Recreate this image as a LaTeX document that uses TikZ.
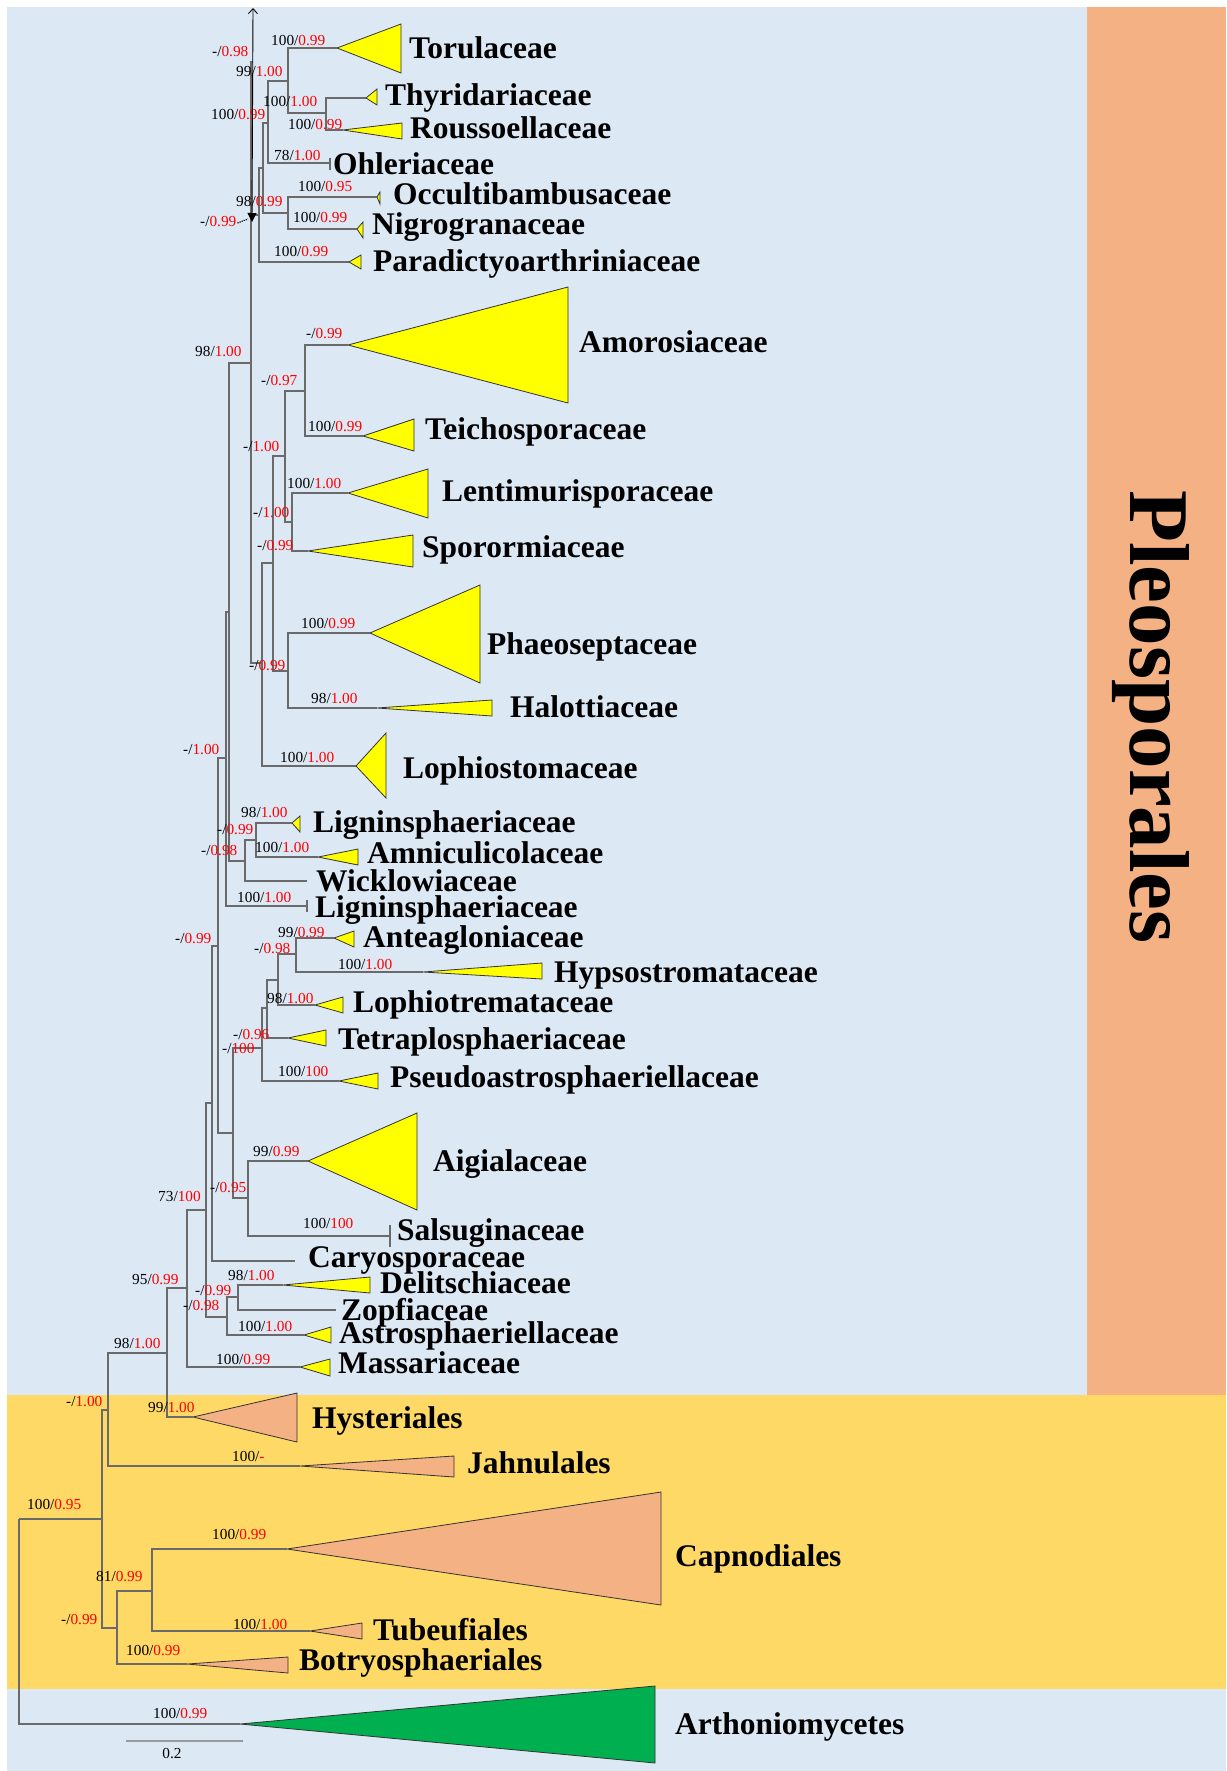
\documentclass[tikz,border=0pt]{standalone}
\usepackage{fontspec}
\setmainfont{Liberation Serif}
\usetikzlibrary{arrows.meta}
\definecolor{bgblue}{HTML}{DDE8F5}
\definecolor{bgorange}{HTML}{F4B183}
\definecolor{bggold}{HTML}{FFD966}
\definecolor{clyellow}{HTML}{FFFF00}
\definecolor{clgreen}{HTML}{00B050}
\definecolor{branch}{HTML}{6A6A6A}
\definecolor{supred}{HTML}{FF0000}

\tikzset{
  br/.style={draw=branch, line width=1.1pt},
  tri/.style={draw=black!80, line width=0.8pt, line join=miter},
  supval/.style={font=\fontsize{15.3}{16}\selectfont, inner sep=0pt, anchor=base west, text=black},
  taxon/.style={font=\fontsize{31.5}{34}\selectfont\bfseries, inner sep=0pt, anchor=base west},
}

% support value: name, position, bootstrap, posterior probability
\newcommand{\bsv}[4]{\node[supval] (#1) at (#2) {#3/\textcolor{supred}{#4}};}
% taxon label: name, position, text
\newcommand{\taxlab}[3]{\node[taxon] (#1) at (#2) {#3};}
% collapsed clade: name, apex, right x, top y, bottom y, fill
\newcommand{\clade}[6]{%
  \coordinate (#1) at (#2);
  \draw[tri, fill=#6] (#1) -- (#3,#4) -- (#3,#5) -- cycle;}

\begin{document}
\begin{tikzpicture}[x=1pt, y=-1pt]
\useasboundingbox (0,0) rectangle (1226,1771);

% coloured bands
\fill[white] (0,0) rectangle (1226,1771);
\fill[bgblue] (7,7) rectangle (1087,1395);
\fill[bgorange] (1087,7) rectangle (1226,1395);
\fill[bggold] (7,1395) rectangle (1226,1689);
\fill[bgblue] (7,1689) rectangle (1226,1771);

\node[font=\fontsize{85}{90}\selectfont\bfseries, rotate=-90, anchor=base, inner sep=0pt] (order) at (1130,717) {Pleosporales};

% collapsed clades
\clade{Toru}{337,48}{401}{24}{73}{clyellow}
\clade{Thyr}{366,98}{377}{89}{105}{clyellow}
\clade{Rous}{343,130}{402}{123}{139}{clyellow}
\clade{Occ}{377,197}{380}{192}{204}{clyellow}
\clade{Nigro}{357,229}{363}{222}{238}{clyellow}
\clade{Paradi}{349,262}{361}{255}{269}{clyellow}
\clade{Amor}{348,345}{568}{287}{403}{clyellow}
\clade{Teich}{363,436}{414}{419}{451}{clyellow}
\clade{Lenti}{348,493}{428}{469}{518}{clyellow}
\clade{Spor}{308,551}{413}{535}{567}{clyellow}
\clade{Phaeo}{370,633}{480}{585}{683}{clyellow}
\clade{Halot}{377,708}{492}{700}{716}{clyellow}
\clade{Lophiost}{356,766}{386}{733}{798}{clyellow}
\clade{LignA}{292,823}{300}{816}{832}{clyellow}
\clade{Amnic}{318,857}{358}{849}{865}{clyellow}
\clade{Antea}{334,938}{354}{931}{947}{clyellow}
\clade{Hypso}{423,972}{542}{963}{979}{clyellow}
\clade{Lophiotr}{315,1005}{343}{997}{1013}{clyellow}
\clade{Tetra}{288,1038}{326}{1030}{1046}{clyellow}
\clade{Pseudo}{339,1081}{378}{1073}{1089}{clyellow}
\clade{Aigi}{308,1161}{417}{1113}{1210}{clyellow}
\clade{Delit}{283,1285}{370}{1277}{1293}{clyellow}
\clade{Astro}{304,1335}{331}{1327}{1343}{clyellow}
\clade{Mass}{300,1367}{330}{1359}{1376}{clyellow}
\clade{Hyst}{193,1417}{297}{1393}{1442}{bgorange}
\clade{Jahn}{300,1466}{454}{1456}{1477}{bgorange}
\clade{Capno}{287,1549}{661}{1492}{1605}{bgorange}
\clade{Tubeu}{310,1631}{362}{1623}{1639}{bgorange}
\clade{Botry}{187,1664}{288}{1657}{1673}{bgorange}
\clade{Arth}{240,1724}{655}{1686}{1763}{clgreen}

% internal nodes
\coordinate (R) at (19,1519);
\coordinate (P) at (102,1519);
\coordinate (Q) at (108,1410);
\coordinate (S) at (167,1353);
\coordinate (T) at (187,1288);
\coordinate (U) at (206,1210);
\coordinate (V) at (227,1317);
\coordinate (W) at (238,1297);
\coordinate (X) at (212,1103);
\coordinate (Y) at (218,946);
\coordinate (Z) at (233,1133);
\coordinate (A1) at (262,1048);
\coordinate (A2) at (248,1198);
\coordinate (A3) at (267,1008);
\coordinate (A4) at (278,980);
\coordinate (A5) at (296,954);
\coordinate (AA) at (226,758);
\coordinate (DD) at (229,612);
\coordinate (BB) at (245,861);
\coordinate (CC) at (256,840);
\coordinate (EE) at (251,363);
\coordinate (EEtop) at (253,62);
\coordinate (KK) at (262,663);
\coordinate (GG) at (273,563);
\coordinate (FF) at (288,671);
\coordinate (HH) at (285,456);
\coordinate (II) at (305,391);
\coordinate (JJ) at (292,522);
\coordinate (LL) at (259,215);
\coordinate (MM) at (263,168);
\coordinate (OO) at (288,213);
\coordinate (NN) at (268,123);
\coordinate (PP) at (288,81);
\coordinate (QQ) at (326,113);
\coordinate (RR) at (117,1628);
\coordinate (SS) at (152,1591);

% tips drawn as plain line ends
\coordinate (Ohl) at (330,163);
\coordinate (Wick) at (307,881);
\coordinate (LignB) at (307,906);
\coordinate (Salsug) at (390,1236);
\coordinate (Caryo) at (295,1261);
\coordinate (Zopf) at (336,1310);

% branches
\foreach \p/\c in {R/Arth, R/P, P/Q, P/RR, Q/S, Q/Jahn, S/T, S/Hyst, T/U, T/Mass,
    U/X, U/V, V/W, V/Astro, W/Delit, W/Zopf, X/Y, X/Caryo, Y/AA, Y/Z, Z/A1, Z/A2,
    A2/Aigi, A2/Salsug, A1/A3, A1/Pseudo, A3/A4, A3/Tetra, A4/A5, A4/Lophiotr,
    A5/Antea, A5/Hypso, AA/DD, AA/LignB, DD/EE, DD/BB, BB/CC, BB/Wick, CC/LignA, CC/Amnic,
    EE/EEtop, EE/LL, EE/KK, KK/GG, KK/Lophiost, GG/HH, GG/FF, FF/Phaeo, FF/Halot,
    HH/II, HH/JJ, II/Amor, II/Teich, JJ/Lenti, JJ/Spor, LL/MM, LL/Paradi,
    MM/NN, MM/OO, OO/Occ, OO/Nigro, NN/PP, NN/Ohl, PP/Toru, PP/QQ, QQ/Thyr, QQ/Rous,
    RR/SS, RR/Botry, SS/Capno, SS/Tubeu}
  \draw[br] (\p) |- (\c);

% small end ticks
\draw[br] (330,158) -- (330,170);
\draw[br] (307,900) -- (307,912);
\draw[br] (390,1225) -- (390,1247);

% taxon names
\taxlab{tToru}{409,59}{Torulaceae}
\taxlab{tThyr}{385,106}{Thyridariaceae}
\taxlab{tRous}{410,139}{Roussoellaceae}
\taxlab{tOhl}{333,175}{Ohleriaceae}
\taxlab{tOcc}{393,205}{Occultibambusaceae}
\taxlab{tNigro}{372,235}{Nigrogranaceae}
\taxlab{tParadi}{373,272}{Paradictyoarthriniaceae}
\taxlab{tAmor}{579,352}{Amorosiaceae}
\taxlab{tTeich}{425,439}{Teichosporaceae}
\taxlab{tLenti}{442,501}{Lentimurisporaceae}
\taxlab{tSpor}{422,557}{Sporormiaceae}
\taxlab{tPhaeo}{487,654}{Phaeoseptaceae}
\taxlab{tHalot}{510,717}{Halottiaceae}
\taxlab{tLophiost}{403,778}{Lophiostomaceae}
\taxlab{tLignA}{313,832}{Ligninsphaeriaceae}
\taxlab{tAmnic}{367,863}{Amniculicolaceae}
\taxlab{tWick}{316,891}{Wicklowiaceae}
\taxlab{tLignB}{315,917}{Ligninsphaeriaceae}
\taxlab{tAntea}{363,947}{Anteagloniaceae}
\taxlab{tHypso}{554,982}{Hypsostromataceae}
\taxlab{tLophiotr}{353,1012}{Lophiotremataceae}
\taxlab{tTetra}{338,1049}{Tetraplosphaeriaceae}
\taxlab{tPseudo}{390,1087}{Pseudoastrosphaeriellaceae}
\taxlab{tAigi}{433,1171}{Aigialaceae}
\taxlab{tSalsug}{397,1240}{Salsuginaceae}
\taxlab{tCaryo}{308,1267}{Caryosporaceae}
\taxlab{tDelit}{380,1293}{Delitschiaceae}
\taxlab{tZopf}{341,1320}{Zopfiaceae}
\taxlab{tAstro}{339,1343}{Astrosphaeriellaceae}
\taxlab{tMass}{338,1373}{Massariaceae}
\taxlab{tHyst}{312,1428}{Hysteriales}
\taxlab{tJahn}{467,1473}{Jahnulales}
\taxlab{tCapno}{675,1566}{Capnodiales}
\taxlab{tTubeu}{373,1640}{Tubeufiales}
\taxlab{tBotry}{299,1670}{Botryosphaeriales}
\taxlab{tArth}{675,1734}{Arthoniomycetes}

% support values (bootstrap / posterior probability)
\bsv{s1}{212,57}{-}{0.98}
\bsv{s2}{271,46}{100}{0.99}
\bsv{s3}{236,77}{99}{1.00}
\bsv{s4}{263,107}{100}{1.00}
\bsv{s5}{288,130}{100}{0.99}
\bsv{s6}{211,120}{100}{0.99}
\bsv{s7}{274,161}{78}{1.00}
\bsv{s8}{298,192}{100}{0.95}
\bsv{s9}{236,207}{98}{0.99}
\bsv{s10}{293,223}{100}{0.99}
\bsv{s11}{200,227}{-}{0.99}
\bsv{s12}{274,257}{100}{0.99}
\bsv{s13}{195,356}{98}{1.00}
\bsv{s14}{306,338}{-}{0.99}
\bsv{s15}{261,385}{-}{0.97}
\bsv{s16}{308,431}{100}{0.99}
\bsv{s17}{243,451}{-}{1.00}
\bsv{s18}{287,488}{100}{1.00}
\bsv{s19}{253,517}{-}{1.00}
\bsv{s20}{257,550}{-}{0.99}
\bsv{s21}{301,628}{100}{0.99}
\bsv{s22}{249,670}{-}{0.99}
\bsv{s23}{311,703}{98}{1.00}
\bsv{s24}{183,754}{-}{1.00}
\bsv{s25}{280,762}{100}{1.00}
\bsv{s26}{241,817}{98}{1.00}
\bsv{s27}{217,834}{-}{0.99}
\bsv{s28}{255,852}{100}{1.00}
\bsv{s29}{201,855}{-}{0.98}
\bsv{s30}{237,902}{100}{1.00}
\bsv{s31}{278,937}{99}{0.99}
\bsv{s32}{175,943}{-}{0.99}
\bsv{s33}{254,953}{-}{0.98}
\bsv{s34}{338,969}{100}{1.00}
\bsv{s35}{267,1003}{98}{1.00}
\bsv{s36}{233,1039}{-}{0.96}
\bsv{s37}{222,1053}{-}{100}
\bsv{s38}{278,1076}{100}{100}
\bsv{s39}{253,1156}{99}{0.99}
\bsv{s40}{210,1192}{-}{0.95}
\bsv{s41}{158,1201}{73}{100}
\bsv{s42}{303,1228}{100}{100}
\bsv{s43}{228,1280}{98}{1.00}
\bsv{s44}{132,1284}{95}{0.99}
\bsv{s45}{195,1295}{-}{0.99}
\bsv{s46}{183,1310}{-}{0.98}
\bsv{s47}{238,1331}{100}{1.00}
\bsv{s48}{114,1348}{98}{1.00}
\bsv{s49}{216,1364}{100}{0.99}
\bsv{s50}{66,1406}{-}{1.00}
\bsv{s51}{148,1412}{99}{1.00}
\bsv{s52}{232,1461}{100}{-}
\bsv{s53}{27,1509}{100}{0.95}
\bsv{s54}{212,1539}{100}{0.99}
\bsv{s55}{96,1581}{81}{0.99}
\bsv{s56}{61,1624}{-}{0.99}
\bsv{s57}{233,1629}{100}{1.00}
\bsv{s58}{126,1655}{100}{0.99}
\bsv{s59}{153,1718}{100}{0.99}

% vertical marker arrow and its dotted pointer
\coordinate (arrTop) at (253,8);
\coordinate (arrBot) at (252,222);
\draw[black, line width=0.9pt, {Straight Barb[length=5pt,width=9pt]}-{Triangle[length=9pt,width=9pt]}] (arrTop) -- (arrBot);
\draw[black, line width=1.2pt, densely dotted] ([xshift=1pt,yshift=4pt]s11.base east) -- ([xshift=-4pt,yshift=3pt]arrBot);

% scale bar
\coordinate (sbL) at (126,1741);
\coordinate (sbR) at (243,1741);
\draw[draw=black!40, line width=1.2pt] (sbL) -- (sbR);
\node[supval, anchor=base] (sblab) at (172,1758) {0.2};
\end{tikzpicture}
\end{document}
